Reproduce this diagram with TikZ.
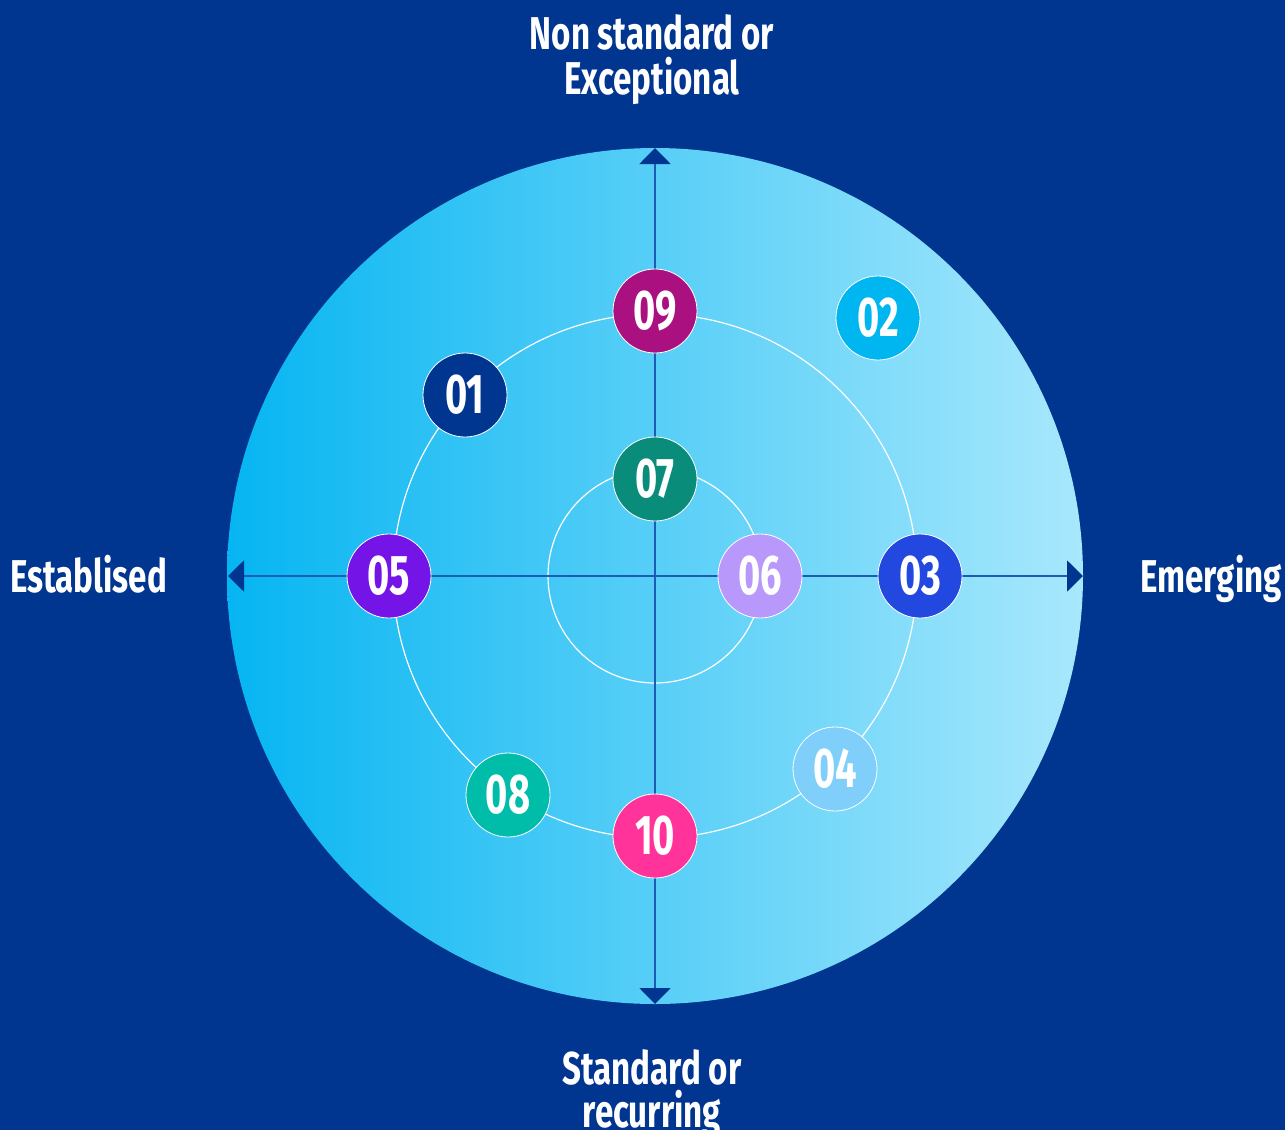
\documentclass[tikz,border=0pt]{standalone}
\usepackage{fontspec}
\newfontfamily\condfont{Fira Sans}[FakeStretch=0.72]
\newfontfamily\digitfont{Fira Sans}[FakeStretch=0.68]
\usetikzlibrary{arrows.meta}
\definecolor{bgblue}{HTML}{003590}
\definecolor{discL}{HTML}{06B5F2}
\definecolor{discR}{HTML}{A8E8FC}
\definecolor{axisblue}{HTML}{1D5CB4}
\definecolor{tipblue}{HTML}{003590}
\definecolor{c01}{HTML}{003590}
\definecolor{c02}{HTML}{00B6F0}
\definecolor{c03}{HTML}{2248E0}
\definecolor{c04}{HTML}{80CEFA}
\definecolor{c05}{HTML}{7414E6}
\definecolor{c06}{HTML}{B898FA}
\definecolor{c07}{HTML}{0A8C7A}
\definecolor{c08}{HTML}{00BDAA}
\definecolor{c09}{HTML}{AA1080}
\definecolor{c10}{HTML}{FF3399}
\begin{document}
\begin{tikzpicture}[x=1pt,y=-1pt,
  ring/.style={draw=white, line width=1.2pt},
  axis/.style={draw=axisblue, line width=2pt,
    {Triangle[width=31pt,length=16pt,color=tipblue]}-{Triangle[width=31pt,length=16pt,color=tipblue]}},
  dot/.style={circle, minimum size=84pt, inner sep=0pt, draw=white, line width=0.8pt,
    text=white, font=\digitfont\bfseries\fontsize{56}{56}\selectfont},
  lbl/.style={text=white, inner sep=0pt, font=\condfont\bfseries\fontsize{46}{46}\selectfont}]
\useasboundingbox (0,0) rectangle (1285,1130);
\fill[bgblue] (0,0) rectangle (1285,1130);

% disc and rings
\coordinate (O) at (655,576);
\shade[left color=discL, right color=discR] (O) circle (428);
\draw[ring] (O) circle (262);
\draw[ring] (O) circle (107);

% axes
\coordinate (T) at (655,148);
\coordinate (B) at (655,1004);
\coordinate (L) at (228,576);
\coordinate (R) at (1083,576);
\draw[axis] (L) -- (R);
\draw[axis] (B) -- (T);

% numbered markers
\node[dot, fill=c01] (n01) at (465,395) {01};
\node[dot, fill=c02] (n02) at (878,318) {02};
\node[dot, fill=c03] (n03) at (920,576) {03};
\node[dot, fill=c04] (n04) at (835,769) {04};
\node[dot, fill=c05] (n05) at (389,576) {05};
\node[dot, fill=c06] (n06) at (760,576) {06};
\node[dot, fill=c07] (n07) at (655,479) {07};
\node[dot, fill=c08] (n08) at (508,795) {08};
\node[dot, fill=c09] (n09) at (655,311) {09};
\node[dot, fill=c10] (n10) at (655,836) {10};

% axis labels
\node[lbl, anchor=base] (top1) at (652,49) {Non standard or};
\node[lbl, anchor=base] (top2) at (652,94) {Exceptional};
\node[lbl, anchor=base west] (left) at (10,592) {Establised};
\node[lbl, anchor=base east] (right) at (1282,592) {Emerging};
\node[lbl, anchor=base] (bot1) at (652,1084) {Standard or};
\node[lbl, anchor=base] (bot2) at (652,1127) {recurring};
\end{tikzpicture}
\end{document}
